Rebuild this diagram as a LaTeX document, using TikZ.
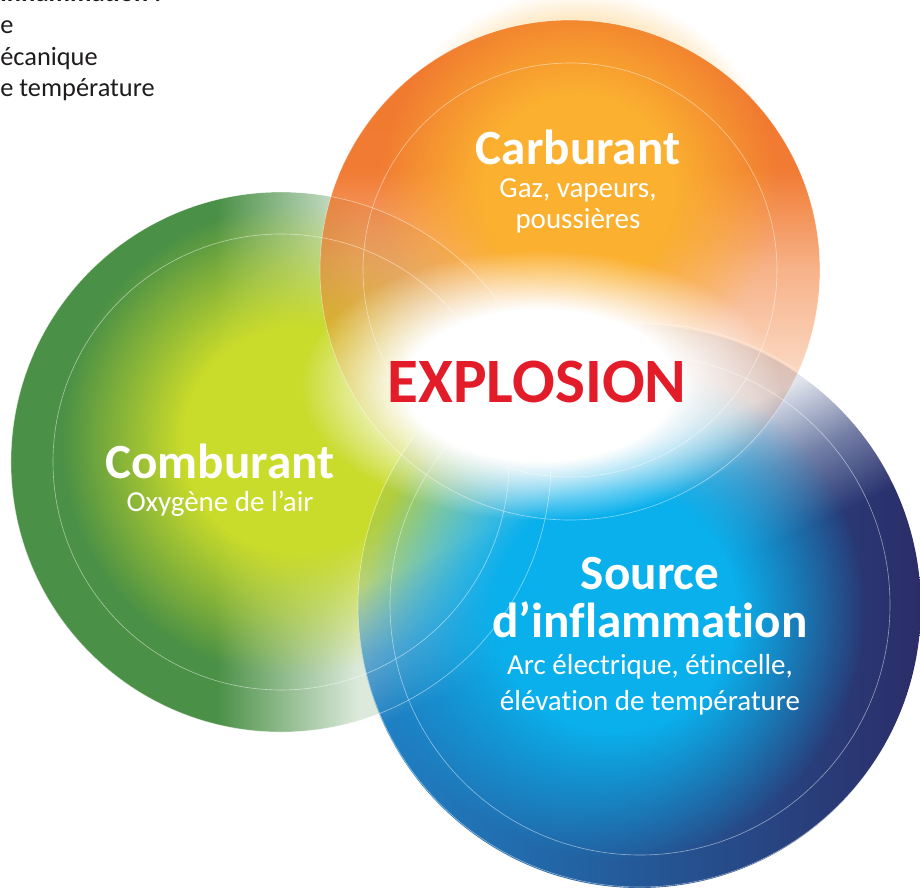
\documentclass[tikz,border=0pt]{standalone}
\usepackage{fontspec}
\setmainfont{Carlito}[Ligatures=NoCommon]
\usepackage{tikz}
\usetikzlibrary{positioning,fadings}
\definecolor{airgreen}{HTML}{4A9046}
\definecolor{airlime}{HTML}{C9DB2B}
\definecolor{fuelorange}{HTML}{F07428}
\definecolor{fuelyellow}{HTML}{FBB030}
\definecolor{sparkblue}{HTML}{1E84C8}
\definecolor{sparkmid}{HTML}{2560A5}
\definecolor{sparknavy}{HTML}{2B2D68}
\definecolor{sparkcyan}{HTML}{0AB0EC}
\definecolor{boomred}{HTML}{E31C2A}
\definecolor{inkgray}{HTML}{1E1B1C}
\definecolor{fadeink}{gray}{0}
% fadings: white = opaque, black = transparent
\pgfdeclareradialshading{softglowshade}{\pgfpointorigin}{color(0bp)=(fadeink!0); color(12bp)=(fadeink!0); color(25bp)=(fadeink!100); color(50bp)=(fadeink!100)}
\pgfdeclarefading{softglow}{\pgfuseshading{softglowshade}}
\pgfdeclareradialshading{boomglowshade}{\pgfpointorigin}{color(0bp)=(fadeink!0); color(14bp)=(fadeink!0); color(25bp)=(fadeink!100); color(50bp)=(fadeink!100)}
\pgfdeclarefading{boomglow}{\pgfuseshading{boomglowshade}}
\pgfdeclarehorizontalshading{airfadeshade}{100bp}{color(0bp)=(fadeink!0); color(44bp)=(fadeink!0); color(57bp)=(fadeink!80); color(75bp)=(fadeink!90); color(100bp)=(fadeink!90)}
\pgfdeclarefading{airfade}{\pgfuseshading{airfadeshade}}
\pgfdeclareverticalshading{fuelfadeshade}{100bp}{color(0bp)=(fadeink!95); color(33bp)=(fadeink!90); color(50bp)=(fadeink!45); color(60bp)=(fadeink!5); color(100bp)=(fadeink!0)}
\pgfdeclarefading{fuelfade}{\pgfuseshading{fuelfadeshade}}
\pgfdeclareverticalshading{sparkfadeshade}{100bp}{color(0bp)=(fadeink!0); color(50bp)=(fadeink!0); color(56bp)=(fadeink!35); color(62bp)=(fadeink!85); color(100bp)=(fadeink!97)}
\pgfdeclarefading{sparkfade}{\pgfuseshading{sparkfadeshade}}
\tikzset{
  title/.style={
    text=white,
    font=\fontsize{28}{27}\selectfont\bfseries,
    align=center,
    inner sep=0pt
  },
  sub/.style={
    text=white,
    font=\fontsize{16.5}{17.6}\selectfont,
    align=center,
    inner sep=0pt
  },
  boom/.style={
    text=boomred,
    font=\fontsize{36}{36}\selectfont\bfseries,
    inner sep=0pt
  },
  note/.style={
    text=inkgray,
    font=\fontsize{15}{18}\selectfont,
    align=left,
    inner sep=0pt
  },
  ring/.style={draw=white, draw opacity=0.5, line width=0.35pt}
}
\begin{document}
\begin{tikzpicture}[x=0.02cm, y=-0.02cm]
  \useasboundingbox (0,0) rectangle (920,891);
  \clip (0,0) rectangle (920,891);

  % Comburant
  \fill[airgreen, path fading=airfade] (281,462) circle[radius=270];
  \fill[airlime, path fading=softglow] (296,440) circle[radius=235];
  % Carburant
  \fill[fuelorange, path fading=fuelfade] (570,270) circle[radius=250];
  \fill[fuelyellow, path fading=softglow] (578,190) circle[radius=200];
  % Source d'inflammation
  \shade[left color=sparkblue, middle color=sparkmid, right color=sparknavy,
    path fading=sparkfade, fading angle=25] (640,605) circle[radius=282];
  \fill[sparkcyan, path fading=softglow] (615,610) circle[radius=250];
  % centre
  \fill[white, path fading=boomglow] (540,385) ellipse[x radius=240, y radius=135];

  \foreach \cx/\cy/\r in {281/462/228, 281/462/270, 570/270/207, 570/270/250, 640/605/250, 640/605/282}
    \draw[ring] (\cx,\cy) circle[radius=\r];

  \node[title, anchor=base] (carb) at (578,165) {Carburant};
  \node[sub, below=7pt of carb] (carbsub) {Gaz, vapeurs,\\poussières};
  \node[title, anchor=base] (comb) at (220,479) {Comburant};
  \node[sub, below=6pt of comb] (combsub) {Oxygène de l’air};
  \node[title, anchor=north] (src) at (650,557) {Source\\d’inflammation};
  \node[sub, below=9pt of src, font=\fontsize{16.5}{21}\selectfont] (srcsub) {Arc électrique, étincelle,\\élévation de température};
  \node[boom, anchor=base] (boom) at (537,403) {EXPLOSION};

  \node[note, anchor=north west] (notes) at (0,-17) {\textbf{inflammation :}\\e\\écanique\\e température};
\end{tikzpicture}
\end{document}
